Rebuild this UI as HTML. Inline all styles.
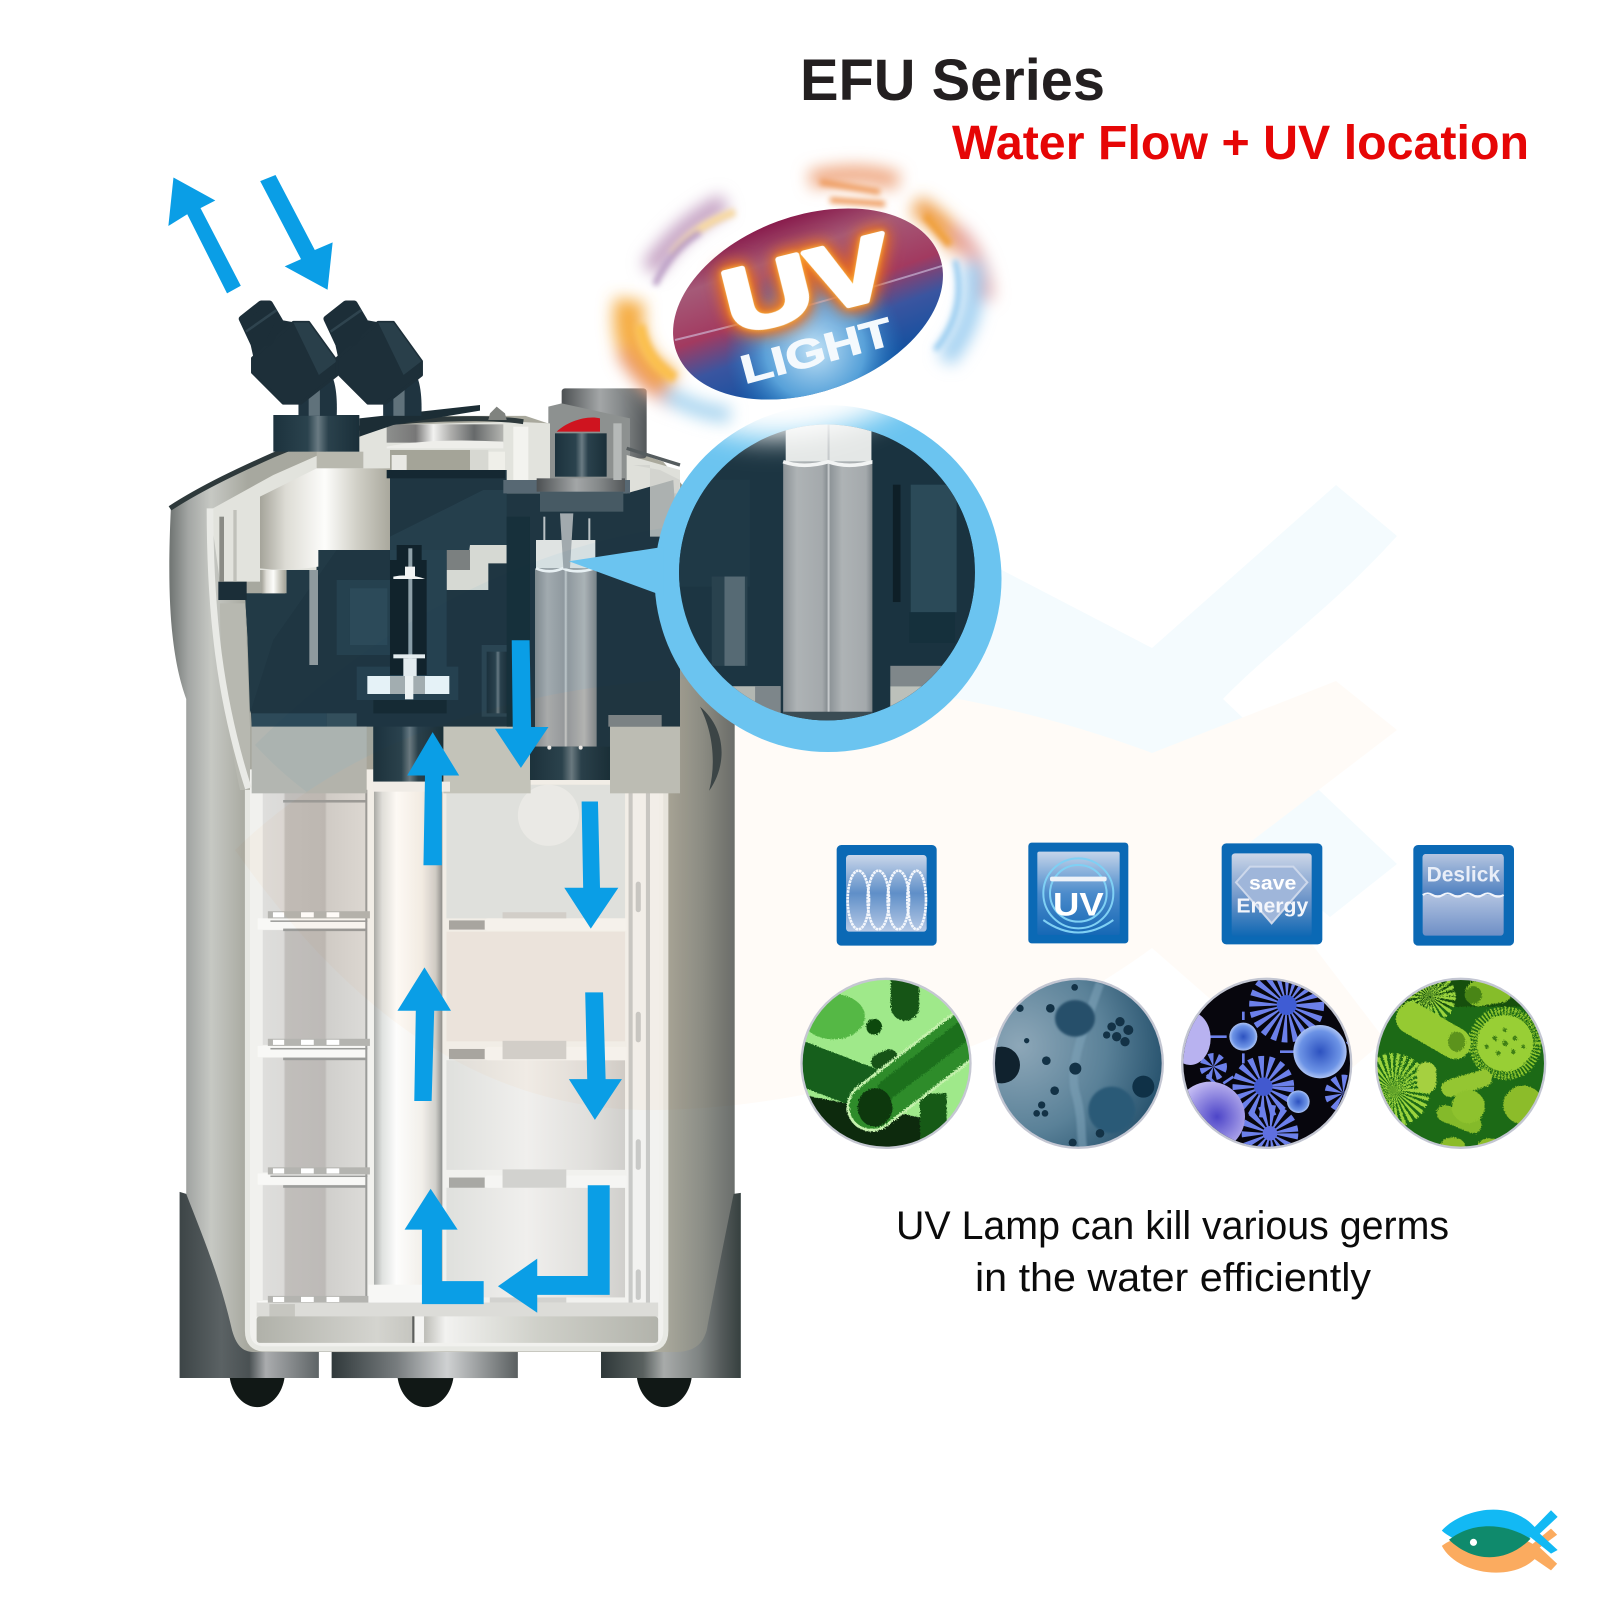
<!DOCTYPE html>
<html lang="en"><head><meta charset="utf-8"><title>EFU Series</title>
<style>html,body{margin:0;padding:0;background:#fff;width:1599px;height:1600px;overflow:hidden}svg{display:block}text{font-family:"Liberation Sans",sans-serif}</style></head>
<body>
<svg xmlns="http://www.w3.org/2000/svg" width="1599" height="1600" viewBox="0 0 1599 1600">
<defs>
<linearGradient id="shell" gradientUnits="userSpaceOnUse" x1="330" x2="1445" y1="0" y2="0"><stop offset="0" stop-color="#6c716f"/><stop offset=".035" stop-color="#a3a6a4"/><stop offset=".075" stop-color="#c6c8c3"/><stop offset=".14" stop-color="#a7a89f"/><stop offset=".87" stop-color="#aaa99c"/><stop offset=".94" stop-color="#8b8d86"/><stop offset="1" stop-color="#686c6a"/></linearGradient>
<linearGradient id="foot" x1="0" x2="1" y1="0" y2="0"><stop offset="0" stop-color="#3d4547"/><stop offset=".3" stop-color="#5b6264"/><stop offset=".5" stop-color="#4a5153"/><stop offset=".62" stop-color="#aaacae"/><stop offset="1" stop-color="#5e6466"/></linearGradient>
<linearGradient id="foot2" x1="0" x2="1" y1="0" y2="0"><stop offset="0" stop-color="#30393b"/><stop offset=".35" stop-color="#777c7e"/><stop offset=".62" stop-color="#cfd1d2"/><stop offset="1" stop-color="#5a5f60"/></linearGradient>
<linearGradient id="foot3" x1="0" x2="1" y1="0" y2="0"><stop offset="0" stop-color="#2e3839"/><stop offset=".3" stop-color="#59605f"/><stop offset=".45" stop-color="#a8abaa"/><stop offset=".7" stop-color="#7f8483"/><stop offset=".86" stop-color="#555b5b"/><stop offset="1" stop-color="#36403f"/></linearGradient>
<linearGradient id="left" x1="0" x2="1" y1="0" y2="0"><stop offset="0" stop-color="#dededc"/><stop offset=".2" stop-color="#dbdad8"/><stop offset=".22" stop-color="#c1bebb"/><stop offset=".6" stop-color="#bdbab7"/><stop offset=".62" stop-color="#d0cfcc"/><stop offset="1" stop-color="#dcdbd8"/></linearGradient>
<linearGradient id="tube" x1="0" x2="1" y1="0" y2="0"><stop offset="0" stop-color="#a9acaa"/><stop offset=".12" stop-color="#dfe1df"/><stop offset=".33" stop-color="#fdfdfc"/><stop offset=".7" stop-color="#f2efea"/><stop offset=".9" stop-color="#d0cfcb"/><stop offset="1" stop-color="#8e908e"/></linearGradient>
<linearGradient id="right" x1="0" x2="1" y1="0" y2="0"><stop offset="0" stop-color="#dfe0dd"/><stop offset=".45" stop-color="#f0efed"/><stop offset=".8" stop-color="#e0dfdc"/><stop offset="1" stop-color="#d0cfcc"/></linearGradient>
<linearGradient id="tray" x1="0" x2="1" y1="0" y2="0"><stop offset="0" stop-color="#b0b1a9"/><stop offset=".3" stop-color="#d4d4cf"/><stop offset=".42" stop-color="#c0c0ba"/><stop offset=".47" stop-color="#f2f2f0"/><stop offset=".7" stop-color="#cfd0c9"/><stop offset="1" stop-color="#b2b3ab"/></linearGradient>
<linearGradient id="silver" x1="0" x2="1" y1="0" y2="0"><stop offset="0" stop-color="#a5a49a"/><stop offset=".2" stop-color="#dddcd5"/><stop offset=".5" stop-color="#fdfdfb"/><stop offset=".75" stop-color="#d0cfc6"/><stop offset="1" stop-color="#a9a89d"/></linearGradient>
<linearGradient id="strip" x1="0" x2="1" y1="0" y2="0"><stop offset="0" stop-color="#8d8f8d"/><stop offset=".25" stop-color="#777"/><stop offset=".4" stop-color="#f2f2f0"/><stop offset=".55" stop-color="#aeaeac"/><stop offset=".75" stop-color="#66696a"/><stop offset="1" stop-color="#b4b5b1"/></linearGradient>
<linearGradient id="dk" x1="0" x2="1" y1="0" y2="0"><stop offset="0" stop-color="#1c323d"/><stop offset=".4" stop-color="#2b434e"/><stop offset=".52" stop-color="#6a7b83"/><stop offset=".64" stop-color="#2a414c"/><stop offset="1" stop-color="#1a2f39"/></linearGradient>
<linearGradient id="cap" x1="0" x2="1" y1="0" y2="0"><stop offset="0" stop-color="#4c5052"/><stop offset=".45" stop-color="#a3a6a7"/><stop offset=".7" stop-color="#85898a"/><stop offset="1" stop-color="#535759"/></linearGradient>
<linearGradient id="lamp" x1="0" x2="1" y1="0" y2="0"><stop offset="0" stop-color="#858c90"/><stop offset=".2" stop-color="#a8adb0"/><stop offset=".47" stop-color="#969ca0"/><stop offset=".5" stop-color="#c8cccd"/><stop offset=".53" stop-color="#959b9f"/><stop offset=".8" stop-color="#b2b6b7"/><stop offset="1" stop-color="#7e858a"/></linearGradient>
<linearGradient id="lamp2" x1="0" x2="1" y1="0" y2="0"><stop offset="0" stop-color="#8b9296"/><stop offset=".3" stop-color="#aeb3b5"/><stop offset=".85" stop-color="#a4a9ac"/><stop offset="1" stop-color="#7d8589"/></linearGradient>
<linearGradient id="badge" x1="0" x2="0" y1="0" y2="1"><stop offset="0" stop-color="#891c4c"/><stop offset=".2" stop-color="#a55a78"/><stop offset=".48" stop-color="#a23a60"/><stop offset=".68" stop-color="#3a55a0"/><stop offset="1" stop-color="#0a4f9f"/></linearGradient>
<radialGradient id="badgeL" gradientUnits="userSpaceOnUse" cx="815" cy="350" r="90"><stop offset="0" stop-color="#c2e2f6"/><stop offset=".55" stop-color="#62afe3" stop-opacity=".85"/><stop offset="1" stop-color="#1a77c4" stop-opacity="0"/></radialGradient>
<linearGradient id="ico1" x1="0" x2="0" y1="0" y2="1"><stop offset="0" stop-color="#c9d6ea"/><stop offset=".5" stop-color="#5f8fc8"/><stop offset="1" stop-color="#b8cae6"/></linearGradient>
<linearGradient id="ico2" x1="0" x2="0" y1="0" y2="1"><stop offset="0" stop-color="#c4d4ea"/><stop offset=".5" stop-color="#4b8bcb"/><stop offset="1" stop-color="#1668b5"/></linearGradient>
<linearGradient id="ico3" x1="0" x2="0" y1="0" y2="1"><stop offset="0" stop-color="#ccd6e8"/><stop offset=".55" stop-color="#6d95c9"/><stop offset="1" stop-color="#0d67b3"/></linearGradient>
<linearGradient id="ico4" x1="0" x2="0" y1="0" y2="1"><stop offset="0" stop-color="#f4f6fb"/><stop offset="1" stop-color="#6e8fc6"/></linearGradient>
<linearGradient id="ico4t" x1="0" x2="0" y1="0" y2="1"><stop offset="0" stop-color="#b5c5e0"/><stop offset="1" stop-color="#4e80c0"/></linearGradient>
<radialGradient id="c2bg" cx=".15" cy=".4" r="1"><stop offset="0" stop-color="#8da7b8"/><stop offset=".5" stop-color="#5a8198"/><stop offset="1" stop-color="#123f5c"/></radialGradient>
<radialGradient id="ball" cx=".5" cy=".5" r=".55"><stop offset="0" stop-color="#2d52c0"/><stop offset=".7" stop-color="#6d94e6"/><stop offset="1" stop-color="#c9d8fa"/></radialGradient>
<radialGradient id="lav" cx=".6" cy=".5" r=".6"><stop offset="0" stop-color="#4d45c8"/><stop offset="1" stop-color="#cfc7f7"/></radialGradient>
<filter id="b8" x="-50%" y="-50%" width="200%" height="200%"><feGaussianBlur stdDeviation="8"/></filter>
<filter id="b6" x="-40%" y="-40%" width="180%" height="180%"><feGaussianBlur stdDeviation="5"/></filter>
<filter id="b3" x="-40%" y="-40%" width="180%" height="180%"><feGaussianBlur stdDeviation="3"/></filter>
<filter id="b14" x="-40%" y="-40%" width="180%" height="180%"><feGaussianBlur stdDeviation="14"/></filter>
<filter id="fuzz" x="-5%" y="-5%" width="110%" height="110%"><feTurbulence type="fractalNoise" baseFrequency=".25" numOctaves="2" seed="4"/><feDisplacementMap in="SourceGraphic" scale="12"/></filter>
<clipPath id="mag"><circle cx="1621" cy="1122" r="290"/></clipPath>
<clipPath id="cc1"><circle cx="288" cy="700" r="250"/></clipPath>
<clipPath id="cc2"><circle cx="865" cy="700" r="250"/></clipPath>
<clipPath id="cc3"><circle cx="290" cy="700" r="250"/></clipPath>
<clipPath id="cc4"><circle cx="872" cy="700" r="250"/></clipPath>
<clipPath id="ell"><ellipse cx="808" cy="304" rx="140" ry="88" transform="rotate(-20 808 304)"/></clipPath>
</defs>
<rect width="1599" height="1600" fill="#fff"/>

<!-- FILTER -->
<g transform="scale(.5102)">
 <g transform="translate(0,1568)" fill="#111816">
  <path d="M450 1130h108c-4 35-28 60-54 60s-50-25-54-60z"/>
  <path d="M779 1130h110c-4 35-28 60-55 60s-51-25-55-60z"/>
  <path d="M1248 1130h108c-4 35-28 60-54 60s-50-25-54-60z"/>
 </g>
 <path d="M335 995C450 905 700 825 850 815L1030 815L1300 905L1345 960L1440 1340V2650H365V1370C340 1300 325 1200 335 995Z" fill="url(#shell)"/>
 <path d="M1372 1385C1425 1430 1425 1500 1390 1550C1405 1490 1395 1430 1372 1385Z" fill="#3c4648"/>
 <g transform="translate(0,1568)">
  <path d="M352 768L365 772C395 850 430 930 455 1040C465 1075 480 1082 500 1082H625V1133H352Z" fill="url(#foot)"/>
  <rect x="650" y="1082" width="365" height="51" fill="url(#foot2)"/>
  <path d="M1452 770L1438 772C1420 860 1400 960 1385 1040C1375 1075 1350 1082 1320 1082H1178V1133H1452Z" fill="url(#foot3)"/>
  <path d="M485 -60V1040Q485 1076 520 1076H1270Q1305 1076 1305 1040V-60" fill="#f1f1ee" stroke="#e7e8e3" stroke-width="10"/>
  <rect x="515" y="-30" width="203" height="262" fill="url(#left)"/>
  <rect x="515" y="255" width="203" height="225" fill="url(#left)"/>
  <rect x="515" y="505" width="203" height="225" fill="url(#left)"/>
  <rect x="515" y="755" width="203" height="225" fill="url(#left)"/>
  <g fill="#f8f8f6"><rect x="505" y="232" width="215" height="22"/><rect x="505" y="482" width="215" height="22"/><rect x="505" y="732" width="215" height="22"/><rect x="505" y="982" width="215" height="24"/></g>
  <g fill="#9b9c9a"><rect x="555" y="252" width="163" height="5"/><rect x="555" y="505" width="163" height="5"/><rect x="555" y="755" width="163" height="5"/><rect x="555" y="0" width="163" height="5"/><rect x="530" y="236" width="190" height="3"/><rect x="530" y="486" width="190" height="3"/><rect x="530" y="736" width="190" height="3"/><rect x="716" y="-20" width="4" height="1000"/></g>
  <g fill="#b4b4b0"><rect x="525" y="218" width="200" height="14"/><rect x="525" y="468" width="200" height="14"/><rect x="525" y="720" width="200" height="14"/><rect x="525" y="972" width="200" height="14"/></g>
  <g fill="#fff" stroke="none"><path d="M535 220h22v10h-22zM590 220h25v10h-25zM640 220h25v10h-25zM535 470h22v10h-22zM590 470h25v10h-25zM640 470h25v10h-25zM535 722h22v10h-22zM590 722h25v10h-25zM640 722h25v10h-25zM535 974h22v10h-22zM590 974h25v10h-25zM640 974h25v10h-25z"/></g>
  <rect x="875" y="-30" width="350" height="262" fill="#dfe4e3"/>
  <rect x="875" y="258" width="350" height="215" fill="#ebe7e2"/>
  <rect x="875" y="510" width="350" height="215" fill="url(#right)"/>
  <rect x="875" y="760" width="350" height="215" fill="url(#right)"/>
  <circle cx="1075" cy="30" r="60" fill="#fff" opacity=".35"/>
  <g fill="#f5f5f3"><rect x="950" y="232" width="310" height="24" rx="6"/><rect x="950" y="484" width="310" height="26" rx="6"/><rect x="950" y="736" width="310" height="24" rx="6"/></g>
  <g fill="#a8a8a4"><rect x="880" y="236" width="70" height="18"/><rect x="880" y="488" width="70" height="20"/><rect x="880" y="740" width="70" height="20"/></g>
  <g fill="#d2d2cf"><rect x="985" y="220" width="125" height="12"/><rect x="985" y="472" width="125" height="36"/><rect x="985" y="724" width="125" height="36"/><rect x="960" y="975" width="150" height="10"/></g>
  <rect x="1228" y="-30" width="64" height="1020" fill="#f2f2f0"/>
  <g fill="#c8c9c7"><rect x="1232" y="-30" width="8" height="1020"/><rect x="1266" y="-30" width="8" height="1020"/><rect x="1246" y="160" width="10" height="60" rx="5"/><rect x="1246" y="415" width="10" height="60" rx="5"/><rect x="1246" y="665" width="10" height="60" rx="5"/><rect x="1246" y="920" width="10" height="60" rx="5"/></g>
  <rect x="503" y="985" width="787" height="28" fill="#dcdcd8"/>
  <rect x="528" y="988" width="50" height="25" fill="#c6c6c0"/>
  <rect x="503" y="1012" width="787" height="52" rx="6" fill="url(#tray)"/>
  <rect x="808" y="1012" width="4" height="52" fill="#5d5f5d"/><rect x="813" y="1012" width="18" height="52" fill="#f5f5f3"/>
  <rect x="733" y="-30" width="134" height="985" fill="url(#tube)"/>
  <rect x="722" y="950" width="105" height="35" fill="#f7f7f5"/>
 </g>
</g>

<!-- HEAD (zoom 6 coordinates) -->
<g transform="translate(160,380) scale(.33333)">
 <rect x="1205" y="25" width="255" height="210" rx="10" fill="url(#cap)"/>
 <path d="M1165 80L1205 70L1410 115V300H1165Z" fill="#8d9190"/>
 <path d="M150 390L340 285L680 135L1060 125L1170 130V345H1030V270H680L690 510H470V570H300V605H180Z" fill="#e2e3dd"/>
 <path d="M1400 225L1560 270V340H1400Z" fill="#dfe0da"/>
 <path d="M30 385C130 320 250 265 340 225C480 165 620 130 790 120C900 115 1000 112 1090 125" fill="none" stroke="#2e393b" stroke-width="15"/>
 <path d="M1400 205L1560 255" fill="none" stroke="#555c5e" stroke-width="10"/>
 <path d="M255 640H380V570H470V510H690V270H1040V340H1400L1540 300L1560 600V1040H1350V1200H1110V1040H850V1205H640V1040H275L262 760Z" fill="#1f3642"/>
 <path d="M255 640H380V570H470V510H530L340 780L270 1000L262 760Z" fill="#223a46"/>
 <path d="M690 470L970 330H1040V495H930V540H690Z" fill="#284350" opacity=".75"/>
 <rect x="275" y="1000" width="225" height="40" fill="#2d4a59"/><rect x="500" y="1000" width="90" height="40" fill="#35505c"/>
 <rect x="470" y="215" width="140" height="50" fill="#b8b8ae"/>
 <path d="M300 350L470 265H690V510H475V560Q380 575 300 565Z" fill="url(#silver)"/>
 <rect x="680" y="133" width="350" height="55" fill="url(#strip)"/>
 <path d="M680 200C780 180 900 178 1030 185V205H680Z" fill="#eeeeea"/>
 <rect x="690" y="210" width="240" height="60" fill="#a4a498"/>
 <rect x="695" y="225" width="45" height="45" fill="#e9e9e4"/><rect x="985" y="215" width="50" height="55" fill="#efefe9"/>
 <rect x="680" y="270" width="355" height="25" fill="#152832"/>
 <rect x="930" y="210" width="55" height="60" fill="#d7d8d2"/>
 <rect x="1060" y="140" width="45" height="170" fill="#f3f3ef"/>
 <path d="M930 495H1040V550H985V630H860V570H920Z" fill="#d6d9d3"/>
 <rect x="860" y="510" width="70" height="60" fill="#7b8080"/>
 <path d="M180 670H255L270 1040V1230H240C200 1050 180 850 180 670Z" fill="#b7b8b0"/>
 <path d="M150 385C150 700 180 960 265 1225" fill="none" stroke="#e9eae6" stroke-width="20"/>
 <rect x="175" y="605" width="85" height="55" fill="#1b2e38"/>
 <rect x="178" y="410" width="14" height="195" fill="#8a8b85"/><rect x="220" y="390" width="10" height="215" fill="#c0c1ba"/>
 <rect x="305" y="570" width="70" height="70" fill="url(#silver)"/>
 <rect x="448" y="570" width="26" height="285" fill="#8e9a9e"/>
 <rect x="275" y="1040" width="345" height="200" fill="#b3b6b1"/>
 <rect x="850" y="1040" width="262" height="200" fill="#c3c6bf"/>
 <rect x="1350" y="1040" width="210" height="200" fill="#bcbfb9"/>
 <rect x="1345" y="1005" width="160" height="35" fill="#7b8488"/>
 <path d="M640 1040H850V1205H640Z" fill="url(#dk)"/>
 <rect x="640" y="1205" width="230" height="30" fill="#f0f0ee"/>
 <rect x="530" y="600" width="160" height="225" fill="#25414f"/><rect x="570" y="625" width="112" height="170" fill="#2c4a59"/>
 <path d="M690 510H860V860H895V960H590V860H690Z" fill="#264250"/>
 <path d="M710 495H785V540H800V885H690V540H710Z" fill="#11232c"/>
 <rect x="745" y="505" width="12" height="450" fill="#8fa1a9"/>
 <path d="M700 590Q750 580 795 597H700ZM735 560H765V590H735Z" fill="#f2f4f4"/>
 <rect x="700" y="823" width="95" height="12" fill="#eef0f0"/><rect x="730" y="835" width="40" height="60" fill="#eef0f0"/>
 <rect x="622" y="888" width="246" height="54" fill="#f0f6f8"/><rect x="690" y="888" width="105" height="54" fill="#a9b0b1"/><rect x="735" y="888" width="25" height="70" fill="#f6f6f4"/>
 <path d="M640 960H860V1000H640Z" fill="#162a34"/>
 <rect x="965" y="795" width="90" height="215" fill="#2c4653"/><rect x="980" y="815" width="65" height="185" fill="url(#dk)"/>
 <rect x="1040" y="410" width="70" height="630" fill="#17303b"/>
 <rect x="1128" y="480" width="178" height="85" fill="#dfe3e2"/>
 <rect x="1125" y="565" width="185" height="535" fill="url(#lamp)"/>
 <path d="M1128 565q40 18 80 0q40 18 95 0" fill="none" stroke="#f2f4f4" stroke-width="8"/>
 <path d="M1200 400H1240L1230 565H1210Z" fill="#a2aaae"/>
 <rect x="1150" y="410" width="6" height="70" fill="#b9c1c4"/><rect x="1285" y="415" width="6" height="65" fill="#b9c1c4"/>
 <rect x="1110" y="1100" width="240" height="100" fill="url(#dk)"/>
 <circle cx="1168" cy="1103" r="6" fill="#eee"/><circle cx="1262" cy="1103" r="6" fill="#eee"/>
 <path d="M1030 300H1410V340H1030Z" fill="#576873"/>
 <rect x="1140" y="335" width="250" height="60" fill="#475a64"/>
 <rect x="1130" y="295" width="265" height="40" fill="url(#cap)"/>
 <rect x="1185" y="160" width="155" height="130" fill="url(#dk)"/>
 <path d="M1190 155C1220 125 1280 105 1320 115V155Z" fill="#cf141f"/>
 <rect x="1360" y="130" width="25" height="170" fill="#b5b9b8"/>
 <path d="M1420 255H1470V470H1550L1560 300L1500 270Z" fill="#cfd1cc" opacity=".8"/>
 <rect x="340" y="105" width="258" height="110" fill="url(#dk)"/>
 <path d="M598 115L960 75V92L700 135L598 170Z" fill="#1c2d35"/>
 <path d="M990 100L1010 80L1035 100L1040 120H985Z" fill="#80837f"/>
</g>

<!-- CONNECTORS -->
<g transform="scale(.5102)">
 <g>
  <path d="M585 815V770L650 735Q662 760 660 815Z" fill="#1f3440"/><rect x="605" y="760" width="22" height="55" fill="#60727b"/>
  <path d="M490 670L555 628L578 632L497 702Z" fill="#1c2e38"/>
  <path d="M495 702L575 632H605L660 708V735L590 790H555L495 730Z" fill="#1d2f39" stroke="#1d2f39" stroke-width="6" stroke-linejoin="round"/>
  <path d="M575 632H605L660 708L625 735Z" fill="#293f4a"/>
  <path d="M475 625L512 596H528L548 630L528 670L497 672Z" fill="#1c2e38" stroke="#1c2e38" stroke-width="14" stroke-linejoin="round"/>
  <path d="M482 650L542 608" stroke="#2f444f" stroke-width="5"/>
 </g>
 <g transform="translate(166,0)">
  <path d="M585 815V770L650 735Q662 760 660 815Z" fill="#1f3440"/><rect x="605" y="760" width="22" height="55" fill="#60727b"/>
  <path d="M490 670L555 628L578 632L497 702Z" fill="#1c2e38"/>
  <path d="M495 702L575 632H605L660 708V735L590 790H555L495 730Z" fill="#1d2f39" stroke="#1d2f39" stroke-width="6" stroke-linejoin="round"/>
  <path d="M575 632H605L660 708L625 735Z" fill="#293f4a"/>
  <path d="M475 625L512 596H528L548 630L528 670L497 672Z" fill="#1c2e38" stroke="#1c2e38" stroke-width="14" stroke-linejoin="round"/>
  <path d="M482 650L542 608" stroke="#2f444f" stroke-width="5"/>
 </g>
</g>

<!-- WATERMARK -->
<g style="mix-blend-mode:multiply">
 <path d="M255 745C500 500 800 480 994 566L1152 648L1336 485L1397 536C1330 610 1270 650 1223 699L1397 864L1330 917L1175 790C1100 815 950 900 800 910C550 930 350 850 255 745Z" fill="#f4fbfe"/>
 <path d="M235 850C450 640 850 640 1152 753L1336 681L1397 730L1240 850L1385 1040L1320 1095L1152 948C1000 1060 800 1110 650 1110C450 1110 320 970 235 850Z" fill="#fffbf7"/>
</g>

<!-- MAGNIFIER -->
<g transform="scale(.5102)">
 <circle cx="1623" cy="1134" r="340" fill="#6bc4f0"/>
 <polygon points="1115,1100 1300,1072 1300,1168" fill="#6bc4f0"/>
 <g clip-path="url(#mag)">
  <rect x="1330" y="830" width="590" height="600" fill="#1c3542"/>
  <rect x="1330" y="940" width="140" height="210" fill="#1f3946"/>
  <rect x="1395" y="1130" width="70" height="175" fill="#29424e"/><rect x="1420" y="1130" width="40" height="175" fill="#566a74"/>
  <rect x="1340" y="1345" width="190" height="90" fill="#b2b7b2"/>
  <rect x="1480" y="1345" width="50" height="60" fill="#7d868a"/>
  <rect x="1540" y="830" width="168" height="75" fill="#e4e7e6"/>
  <rect x="1535" y="905" width="90" height="495" fill="url(#lamp2)"/><rect x="1625" y="905" width="85" height="495" fill="url(#lamp2)"/>
  <rect x="1622" y="830" width="4" height="570" fill="#c5c9cb"/>
  <path d="M1535 905q40 14 88 0q40 14 88 0" fill="none" stroke="#f2f4f4" stroke-width="7"/>
  <rect x="1535" y="1395" width="175" height="25" fill="#3a4c54"/>
  <rect x="1710" y="830" width="200" height="600" fill="#1a3340"/>
  <rect x="1785" y="950" width="90" height="250" fill="#2b4a58"/>
  <rect x="1750" y="950" width="15" height="230" fill="#0e1f27"/>
  <rect x="1782" y="1200" width="90" height="60" fill="#15303c"/>
  <rect x="1745" y="1305" width="170" height="40" fill="#7f878a"/><rect x="1745" y="1345" width="170" height="60" fill="#bcc0ba"/>
 </g>
</g>

<!-- ARROWS -->
<g transform="scale(.5102)" fill="#0a9ee6">
 <polygon points="340,348 422,393 393,408 472,560 445,575 367,420 330,443"/>
 <polygon points="510,355 540,343 617,490 652,475 642,568 558,522 590,508"/>
 <polygon points="1003,1255 1038,1255 1041,1425 1075,1425 1021,1505 970,1428 1005,1428"/>
 <polygon points="848,1435 900,1520 866,1520 866,1696 830,1696 833,1520 798,1520"/>
 <g transform="translate(0,1568)">
  <polygon points="1140,3 1172,3 1176,172 1212,172 1158,252 1106,172 1143,172"/>
  <polygon points="1147,377 1182,377 1187,547 1219,547 1166,627 1115,547 1151,547"/>
  <polygon points="832,328 884,413 851,413 846,590 812,590 815,413 779,413"/>
  <polygon points="948,988 948,943 866,943 866,842 897,842 844,762 793,842 827,842 827,988"/>
  <polygon points="1152,755 1195,755 1195,970 1053,970 1053,1005 976,953 1053,899 1053,933 1152,933"/>
 </g>
</g>

<!-- UV BADGE -->
<g>
 <ellipse cx="808" cy="304" rx="178" ry="128" transform="rotate(-18 808 304)" fill="#fff" filter="url(#b14)"/>
 <g filter="url(#b8)" fill="none">
  <path d="M630 300Q620 360 672 385" stroke="#f5ad45" stroke-width="30"/>
  <path d="M622 350Q640 385 675 402" stroke="#e88d6a" stroke-width="14" opacity=".8"/>
  <path d="M650 270Q680 225 725 203" stroke="#c5a2c3" stroke-width="20"/>
  <path d="M810 180Q860 168 898 182" stroke="#efa781" stroke-width="18"/>
  <path d="M915 205Q945 222 962 250" stroke="#ee9c46" stroke-width="20"/>
  <path d="M955 230Q985 262 985 300" stroke="#e5a6a2" stroke-width="16"/>
  <path d="M972 262Q982 315 945 360" stroke="#9bcdf0" stroke-width="18"/>
  <path d="M665 392Q695 412 730 415" stroke="#a5d3ef" stroke-width="16"/>
 </g>
 <g filter="url(#b3)" fill="none">
  <path d="M672 255Q695 225 735 212" stroke="#f7d9a0" stroke-width="8"/>
  <path d="M655 285Q670 250 700 232" stroke="#b99cc4" stroke-width="6"/>
  <path d="M820 182L880 192M830 200L885 204" stroke="#ee9a5c" stroke-width="6"/>
  <path d="M925 215L950 245" stroke="#f0a03c" stroke-width="8"/>
  <path d="M955 260Q968 310 935 350" stroke="#8cc6ee" stroke-width="5"/>
  <path d="M640 325Q645 360 675 378" stroke="#fbc04e" stroke-width="10"/>
 </g>
 <ellipse cx="808" cy="304" rx="140" ry="88" transform="rotate(-20 808 304)" fill="url(#badge)"/>
 <g clip-path="url(#ell)">
  <circle cx="815" cy="350" r="90" fill="url(#badgeL)"/>
  <path d="M675 340Q800 310 945 265" stroke="#d5c8e5" stroke-width="2" fill="none" opacity=".6"/>
 </g>
 <g transform="translate(807,283) rotate(-14)" style="filter:drop-shadow(0 0 3px #ffc040) drop-shadow(0 0 8px #f07a20) drop-shadow(0 0 6px #e5631c)">
  <text x="0" y="32" font-size="90" font-weight="700" fill="#fff" stroke="#fff" stroke-width="5" stroke-linejoin="round" text-anchor="middle" textLength="170" lengthAdjust="spacingAndGlyphs">UV</text>
 </g>
 <text transform="translate(745,384) rotate(-15)" x="0" y="0" font-size="40" font-weight="700" fill="#f4f9fd" stroke="#f4f9fd" stroke-width="1" textLength="155" lengthAdjust="spacingAndGlyphs">LIGHT</text>
</g>

<!-- TITLES -->
<text x="800" y="100" font-size="58" font-weight="700" fill="#231f20" textLength="305" lengthAdjust="spacingAndGlyphs">EFU Series</text>
<text x="952" y="159" font-size="48" font-weight="700" fill="#e60606" textLength="577" lengthAdjust="spacingAndGlyphs">Water Flow + UV location</text>
<text x="896" y="1239" font-size="40" fill="#0b0b0b" textLength="553" lengthAdjust="spacingAndGlyphs">UV Lamp can kill various germs</text>
<text x="975" y="1291" font-size="40" fill="#0b0b0b" textLength="396" lengthAdjust="spacingAndGlyphs">in the water efficiently</text>

<!-- ICONS + CIRCLES LEFT PAIR -->
<g transform="translate(790,830) scale(.33333)">
 <rect x="140" y="45" width="300" height="302" rx="14" fill="#0b69b5"/>
 <rect x="168" y="75" width="242" height="230" rx="10" fill="url(#ico1)"/>
 <g fill="none" stroke="#f4f7fc" stroke-width="8" stroke-dasharray="8 2">
  <ellipse cx="205" cy="210" rx="32" ry="88"/><ellipse cx="265" cy="210" rx="32" ry="88"/><ellipse cx="325" cy="210" rx="32" ry="88"/><ellipse cx="380" cy="210" rx="28" ry="88"/>
 </g>
 <rect x="715" y="38" width="300" height="302" rx="10" fill="#0b69b5"/>
 <rect x="742" y="65" width="247" height="250" rx="6" fill="url(#ico2)"/>
 <g fill="none" stroke="#7fd0f4" stroke-width="6">
  <circle cx="865" cy="190" r="85"/><circle cx="865" cy="190" r="105"/><path d="M760 270Q865 345 970 270"/>
 </g>
 <rect x="780" y="140" width="170" height="14" rx="6" fill="#eef2f8"/>
 <text x="865" y="256" font-size="98" font-weight="700" fill="#fff" text-anchor="middle" textLength="152" lengthAdjust="spacingAndGlyphs">UV</text>

 <!-- c1 -->
 <circle cx="288" cy="700" r="257" fill="#c5c7d2"/>
 <g clip-path="url(#cc1)"><g filter="url(#fuzz)">
  <rect x="0" y="400" width="600" height="600" fill="#9fe98a"/>
  <path d="M20 695L230 775" stroke="#155f1a" stroke-width="130" stroke-linecap="round"/>
  <path d="M30 870L400 940" stroke="#0a2a0f" stroke-width="150" stroke-linecap="round"/>
  <path d="M345 430V530" stroke="#165516" stroke-width="85" stroke-linecap="round"/>
  <ellipse cx="130" cy="560" rx="95" ry="68" fill="#55b845"/>
  <circle cx="252" cy="590" r="24" fill="#0f4a10"/>
  <path d="M430 790V930" stroke="#125a16" stroke-width="80"/>
  <path d="M265 695L300 680" stroke="#135315" stroke-width="44" stroke-linecap="round"/>
  <path d="M245 830L530 610" stroke="#c6f2ae" stroke-width="150" stroke-linecap="round"/>
  <path d="M245 830L530 610" stroke="#2f8c2c" stroke-width="134" stroke-linecap="round"/>
  <path d="M290 780L530 595" stroke="#1e701f" stroke-width="60" stroke-linecap="round"/>
  <ellipse cx="255" cy="832" rx="52" ry="58" fill="#07380b"/>
 </g></g>
 <!-- c2 -->
 <circle cx="865" cy="700" r="257" fill="#c3c6d2"/>
 <g clip-path="url(#cc2)">
  <rect x="610" y="440" width="520" height="520" fill="url(#c2bg)"/>
  <path d="M930 460C880 600 830 720 860 800C880 880 870 920 880 960" stroke="#7ea2b8" stroke-width="26" fill="none" opacity=".6" filter="url(#b3)"/>
  <ellipse cx="855" cy="565" rx="60" ry="55" fill="#264f6a" filter="url(#b3)"/>
  <circle cx="965" cy="840" r="70" fill="#295a77" filter="url(#b3)"/>
  <circle cx="1060" cy="770" r="33" fill="#0f3147"/>
  <circle cx="635" cy="705" r="55" fill="#10222e"/>
  <g fill="#133246"><circle cx="965" cy="590" r="13"/><circle cx="990" cy="575" r="14"/><circle cx="1015" cy="600" r="15"/><circle cx="980" cy="620" r="14"/><circle cx="1005" cy="635" r="14"/><circle cx="950" cy="615" r="11"/><circle cx="755" cy="825" r="11"/><circle cx="740" cy="850" r="10"/><circle cx="765" cy="850" r="10"/><circle cx="856" cy="716" r="18"/><circle cx="769" cy="692" r="13"/><circle cx="794" cy="782" r="13"/><circle cx="781" cy="535" r="13"/><circle cx="710" cy="632" r="8"/><circle cx="854" cy="472" r="10"/><circle cx="690" cy="535" r="11"/><circle cx="930" cy="910" r="13"/><circle cx="848" cy="938" r="12"/></g>
 </g>
</g>

<!-- ICONS + CIRCLES RIGHT PAIR -->
<g transform="translate(1170,830) scale(.33333)">
 <rect x="155" y="40" width="302" height="303" rx="14" fill="#0b69b5"/>
 <rect x="185" y="70" width="240" height="250" rx="10" fill="url(#ico3)"/>
 <path d="M240 110H370L412 157L305 280L198 157Z" fill="#9fb6da" stroke="#cdd8eb" stroke-width="6"/>
 <text x="308" y="178" font-size="58" font-weight="700" fill="#fff" text-anchor="middle" textLength="142" lengthAdjust="spacingAndGlyphs">save</text>
 <text x="307" y="248" font-size="62" font-weight="700" fill="#f4f6fb" text-anchor="middle" textLength="216" lengthAdjust="spacingAndGlyphs">Energy</text>

 <rect x="730" y="45" width="302" height="302" rx="14" fill="#0b69b5"/>
 <rect x="758" y="72" width="243" height="245" rx="10" fill="url(#ico4)"/>
 <path d="M758 82Q758 72 768 72H991Q1001 72 1001 82V195H758Z" fill="url(#ico4t)"/>
 <path d="M758 195q15-10 30 0t30 0t30 0t30 0t30 0t30 0t30 0t33 0" stroke="#f2f5fb" stroke-width="6" fill="none"/>
 <text x="880" y="155" font-size="64" font-weight="700" fill="#e9eef8" text-anchor="middle" textLength="220" lengthAdjust="spacingAndGlyphs">Deslick</text>

 <!-- c3 -->
 <circle cx="290" cy="700" r="257" fill="#c3c6d2"/>
 <g clip-path="url(#cc3)">
  <rect x="30" y="440" width="520" height="520" fill="#07060d"/>
  <g fill="none" stroke="#6c80ea" stroke-dasharray="9 8">
   <circle cx="350" cy="525" r="55" stroke-width="115"/>
   <circle cx="280" cy="770" r="45" stroke-width="95"/>
   <circle cx="130" cy="710" r="20" stroke-width="42"/>
   <circle cx="520" cy="790" r="26" stroke-width="60"/>
   <circle cx="300" cy="910" r="40" stroke-width="90"/>
  </g>
  <circle cx="350" cy="525" r="30" fill="#3f5cd4"/><circle cx="280" cy="770" r="28" fill="#4259cf"/><circle cx="300" cy="910" r="22" fill="#5f6fe0"/>
  <g stroke="#6c80ea" stroke-width="8" fill="none"><path d="M170 620H120M220 670V700M220 570V545M375 665H330M530 640L560 620M140 765L110 735M160 760L190 740M60 840L70 770M100 780L130 800"/></g>
  <circle cx="450" cy="665" r="80" fill="url(#ball)"/>
  <circle cx="220" cy="620" r="42" fill="url(#ball)"/>
  <circle cx="385" cy="815" r="34" fill="url(#ball)"/>
  <circle cx="120" cy="860" r="105" fill="url(#lav)"/>
  <ellipse cx="60" cy="625" rx="62" ry="80" fill="#b8b2f0"/>
 </g>
 <!-- c4 -->
 <circle cx="872" cy="700" r="257" fill="#c3c6d2"/>
 <g clip-path="url(#cc4)"><g filter="url(#fuzz)">
  <rect x="590" y="420" width="560" height="560" fill="#1f6a12"/>
  <rect x="590" y="420" width="560" height="110" fill="#0f3f0a" opacity=".6"/>
  <g fill="none" stroke="#9ad33e" stroke-dasharray="6 5">
   <circle cx="780" cy="500" r="40" stroke-width="75"/>
   <circle cx="670" cy="780" r="55" stroke-width="110"/>
  </g>
  <circle cx="1005" cy="640" r="98" fill="none" stroke="#8ec52e" stroke-width="24" stroke-dasharray="5 5"/>
  <circle cx="1005" cy="640" r="85" fill="#98cf35"/>
  <g fill="#3f7f14"><circle cx="1005" cy="640" r="8"/><circle cx="975" cy="625" r="7"/><circle cx="1035" cy="625" r="7"/><circle cx="985" cy="670" r="7"/><circle cx="1030" cy="665" r="7"/><circle cx="1005" cy="600" r="6"/><circle cx="950" cy="650" r="6"/><circle cx="1060" cy="650" r="6"/></g>
  <path d="M725 565L855 640" stroke="#95ca33" stroke-width="95" stroke-linecap="round"/>
  <ellipse cx="860" cy="635" rx="26" ry="30" fill="#5c931d"/>
  <path d="M925 490L990 480" stroke="#86bd29" stroke-width="78" stroke-linecap="round"/>
  <circle cx="910" cy="495" r="26" fill="#4a8518"/>
  <path d="M770 725V760" stroke="#a5d03f" stroke-width="58" stroke-linecap="round"/>
  <path d="M840 775L940 745" stroke="#94c632" stroke-width="52" stroke-linecap="round"/>
  <path d="M825 850L910 885" stroke="#84ba2a" stroke-width="50" stroke-linecap="round"/>
  <circle cx="895" cy="830" r="50" fill="#8ec22d"/>
  <ellipse cx="1060" cy="825" rx="60" ry="58" fill="#8cbc2c"/>
  <ellipse cx="848" cy="950" rx="38" ry="28" fill="#8cbc2c"/><ellipse cx="960" cy="950" rx="38" ry="25" fill="#8cbc2c"/>
 </g></g>
</g>

<!-- LOGO -->
<g transform="translate(800,800) scale(.5102)">
 <path d="M1258 1462C1285 1515 1390 1535 1440 1488L1472 1510L1484 1497L1450 1465L1484 1440L1472 1428L1436 1458C1390 1430 1300 1430 1258 1462Z" fill="#fbab5f"/>
 <path d="M1258 1432C1290 1395 1385 1365 1440 1425L1472 1392L1485 1405L1450 1438L1485 1470L1472 1477L1432 1445C1390 1470 1300 1470 1258 1432Z" fill="#12b9f4"/>
 <path d="M1272 1450C1320 1412 1385 1418 1432 1448C1385 1496 1320 1496 1272 1450Z" fill="#0f8a6c"/>
 <circle cx="1320" cy="1455" r="7" fill="#fff"/>
</g>
</svg>
</body></html>
